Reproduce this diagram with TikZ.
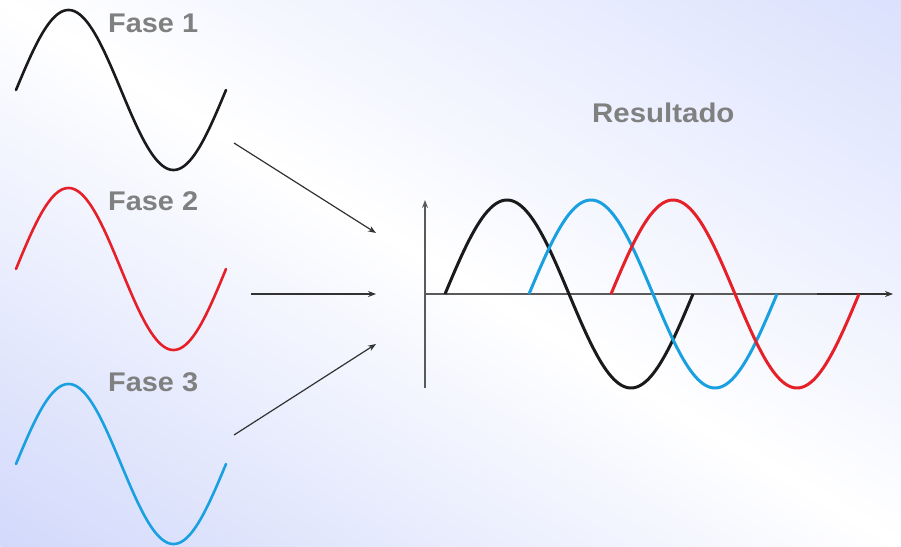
\documentclass[tikz,border=0pt]{standalone}
\usepackage{fontspec}
\setmainfont{Liberation Sans}
\usetikzlibrary{arrows.meta}
\definecolor{bgtr}{RGB}{219,225,253}
\definecolor{bgbl}{RGB}{210,217,251}
\definecolor{labgray}{RGB}{128,128,128}
\definecolor{wblack}{RGB}{26,26,26}
\definecolor{wred}{RGB}{230,32,40}
\definecolor{wblue}{RGB}{24,160,224}
\definecolor{axgray}{RGB}{90,90,90}
\definecolor{arrgray}{RGB}{50,50,50}
\tikzset{
  lbl/.style={anchor=base west, inner sep=0pt, text=labgray, font=\fontsize{27}{27}\selectfont\bfseries},
  wave/.style={line width=2.6pt, line cap=round},
  rwave/.style={line width=3pt},
  feed/.style={draw=arrgray, line width=1.2pt, -{Stealth[length=8pt,width=6pt]}},
  axis/.style={draw=axgray, line width=1.5pt}
}
\begin{document}
\begin{tikzpicture}[x=1pt,y=-1pt]
  \useasboundingbox (0,0) rectangle (901,546);
  \begin{scope}
    \clip (0,0) rectangle (901,546);
    \fill[white] (0,0) rectangle (901,546);
    \begin{scope}[transform canvas={rotate around={-31.2:(450.5,273)}}]
      \shade[top color=bgtr, bottom color=bgbl, middle color=white] (-150,-194) rectangle (1051,740);
    \end{scope}
  \end{scope}
  % left waves
  \draw[wave, wblack, domain=0:360, samples=120, variable=\t] plot ({16+\t/360*210},{90-80*sin(\t)});
  \draw[wave, wred, domain=0:360, samples=120, variable=\t] plot ({16+\t/360*210},{269-81*sin(\t)});
  \draw[wave, wblue, domain=0:360, samples=120, variable=\t] plot ({16+\t/360*210},{464-80*sin(\t)});
  % labels
  \node[lbl] (f1) at (108,32) {\scalebox{1.07}[1]{Fase 1}};
  \node[lbl] (f2) at (108,210) {\scalebox{1.07}[1]{Fase 2}};
  \node[lbl] (f3) at (108,391) {\scalebox{1.07}[1]{Fase 3}};
  \node[lbl] (res) at (592,122) {\scalebox{1.09}[1]{Resultado}};
  % arrows
  \coordinate (a1s) at (234,143); \coordinate (a1e) at (376,233);
  \coordinate (a2s) at (251,294); \coordinate (a2e) at (376,294);
  \coordinate (a3s) at (234,435); \coordinate (a3e) at (376,344);
  \draw[feed] (a1s) -- (a1e);
  \draw[feed] (a2s) -- (a2e);
  \draw[feed] (a3s) -- (a3e);
  % axes
  \coordinate (o) at (425,294);
  \coordinate (ybot) at (425,388);
  \coordinate (ytop) at (425,200);
  \coordinate (xmid) at (817,294);
  \coordinate (xend) at (893,294);
  \draw[axis, -{Stealth[length=8pt,width=6pt]}] (ybot) -- (ytop);
  \draw[axis] (o) -- (xmid);
  \draw[axis, draw=arrgray, -{Stealth[length=8pt,width=6pt]}] (xmid) -- (xend);
  % result waves
  \draw[rwave, wblack, domain=0:360, samples=120, variable=\t] plot ({445+\t/360*248},{294-94*sin(\t)});
  \draw[rwave, wblue, domain=0:360, samples=120, variable=\t] plot ({529+\t/360*248},{294-94*sin(\t)});
  \draw[rwave, wred, domain=0:360, samples=120, variable=\t] plot ({611+\t/360*248},{294-94*sin(\t)});
\end{tikzpicture}
\end{document}
